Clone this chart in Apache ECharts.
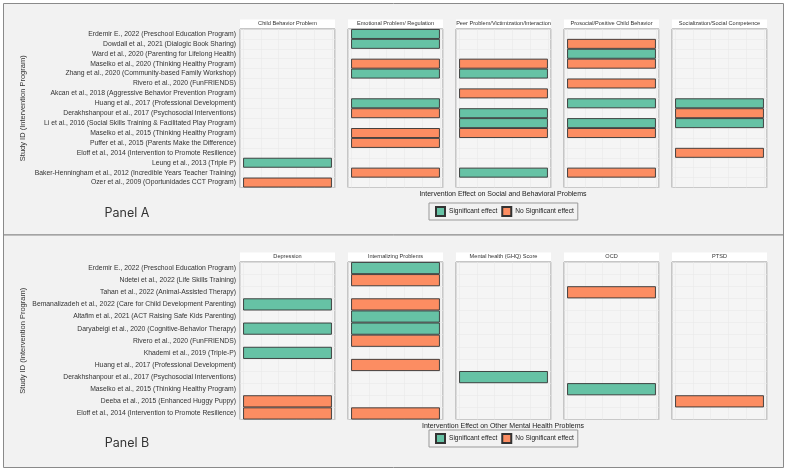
<!DOCTYPE html>
<html>
<head>
<meta charset="utf-8">
<script src="https://cdn.jsdelivr.net/npm/echarts@6/dist/echarts.min.js"></script>
<style>
html,body{margin:0;padding:0;background:#ffffff;}
#chart{width:787px;height:471px;}
</style>
</head>
<body>
<div id="chart"></div>
<script>
// ---------- DATA ----------
const studiesA = [
  'Erdemir E., 2022 (Preschool Education Program)',
  'Dowdall et al., 2021 (Dialogic Book Sharing)',
  'Ward et al., 2020 (Parenting for Lifelong Health)',
  'Maselko et al., 2020 (Thinking Healthy Program)',
  'Zhang et al., 2020 (Community-based Family Workshop)',
  'Rivero et al., 2020 (FunFRIENDS)',
  'Akcan et al., 2018 (Aggressive Behavior Prevention Program)',
  'Huang et al., 2017 (Professional Development)',
  'Derakhshanpour et al., 2017 (Psychosocial Interventions)',
  'Li et al., 2016 (Social Skills Training & Facilitated Play Program)',
  'Maselko et al., 2015 (Thinking Healthy Program)',
  'Puffer et al., 2015 (Parents Make the Difference)',
  'Eloff et al., 2014 (Intervention to Promote Resilience)',
  'Leung et al., 2013 (Triple P)',
  'Baker-Henningham et al., 2012 (Incredible Years Teacher Training)',
  'Ozer et al., 2009 (Oportunidades CCT Program)'
];
const studiesB = [
  'Erdemir E., 2022 (Preschool Education Program)',
  'Ndetei et al., 2022 (Life Skills Training)',
  'Tahan et al., 2022 (Animal-Assisted Therapy)',
  'Bemanalizadeh et al., 2022 (Care for Child Development Parenting)',
  'Altafim et al., 2021 (ACT Raising Safe Kids Parenting)',
  'Daryabeigi et al., 2020 (Cognitive-Behavior Therapy)',
  'Rivero et al., 2020 (FunFRIENDS)',
  'Khademi et al., 2019 (Triple-P)',
  'Huang et al., 2017 (Professional Development)',
  'Derakhshanpour et al., 2017 (Psychosocial Interventions)',
  'Maselko et al., 2015 (Thinking Healthy Program)',
  'Deeba et al., 2015 (Enhanced Huggy Puppy)',
  'Eloff et al., 2014 (Intervention to Promote Resilience)'
];
const facetsA = ['Child Behavior Problem','Emotional Problem/ Regulation','Peer Problem/Victimization/Interaction','Prosocial/Positive Child Behavior','Socialization/Social Competence'];
const facetsB = ['Depression','Internalizing Problems','Mental health (GHQ) Score','OCD','PTSD'];

// 'S' = Significant effect, 'N' = No Significant effect, '' = not measured
const childBehavior = ['','','','','','','','','','','','','','S','','N'];
const emotional     = ['S','S','','N','S','','','S','N','','N','N','','','N',''];
const peer          = ['','','','N','S','','N','','S','S','N','','','','S',''];
const prosocial     = ['','N','S','N','','N','','S','','S','N','','','','N',''];
const socialization = ['','','','','','','','S','N','S','','','N','','',''];

const depression    = ['','','','S','','S','','S','','','','N','N'];
const internalizing = ['S','N','','N','S','S','N','','N','','','','N'];
const ghq           = ['','','','','','','','','','S','','',''];
const ocd           = ['','','N','','','','','','','','S','',''];
const ptsd          = ['','','','','','','','','','','','N',''];

const legendNames = ['Significant effect','No Significant effect'];
const xTitles = ['Intervention Effect on Social and Behavioral Problems','Intervention Effect on Other Mental Health Problems'];
const panelLabels = ['Panel A','Panel B'];

// ---------- BUILD ----------
const GREEN = '#66c2a5', ORANGE = '#fc8d62';
const FONT = 'Liberation Sans, Arial, sans-serif';
const panels = [
  {studies: studiesA, facets: facetsA, effects: [childBehavior, emotional, peer, prosocial, socialization], top: 29, height: 158.5},
  {studies: studiesB, facets: facetsB, effects: [depression, internalizing, ghq, ocd, ptsd], top: 262, height: 157.5}
];
const LEFT0 = 240, STEP = 108, W = 95;

const grid = [], xAxis = [], yAxis = [], series = [], graphic = [];

// outer boxes
graphic.push({type:'rect', z:-100, shape:{x:3.5,y:3.5,width:780,height:231.5}, style:{fill:'#f2f2f2', stroke:'#8a8a8a', lineWidth:1}});
graphic.push({type:'rect', z:-100, shape:{x:3.5,y:235,width:780,height:232.5}, style:{fill:'#f2f2f2', stroke:'#8a8a8a', lineWidth:1}});

let gi = 0;
panels.forEach((p, pi) => {
  p.facets.forEach((fname, fi) => {
    const left = LEFT0 + STEP * fi;
    grid.push({left: left, top: p.top, width: W, height: p.height, show: true,
      backgroundColor: '#f5f5f5', borderColor: '#9a9a9a', borderWidth: 1, containLabel: false});
    xAxis.push({type:'value', gridIndex: gi, min: -0.035, max: 1.035,
      axisLabel:{show:false}, axisTick:{show:false}, axisLine:{show:false},
      splitNumber: 5,
      splitLine:{show:true, lineStyle:{color:'#e9e9e9', width:0.6}}});
    const ya = {type:'category', gridIndex: gi, data: p.studies, inverse: true,
      axisTick:{show:false}, axisLine:{show:false},
      axisLabel:{show: fi === 0, fontSize: 6.8, color:'#333', margin: 4, fontFamily: FONT, interval: 0},
      splitLine:{show:true, lineStyle:{color:'#e9e9e9', width:0.6}}};
    if (fi === 0) {
      ya.name = 'Study ID (Intervention Program)';
      ya.nameLocation = 'middle';
      ya.nameGap = 213;
      ya.nameRotate = 90;
      ya.nameTextStyle = {fontSize: 7.5, color:'#333', fontFamily: FONT};
    }
    yAxis.push(ya);
    const eff = p.effects[fi];
    series.push({type:'bar', name: legendNames[0], xAxisIndex: gi, yAxisIndex: gi, stack:'s'+gi,
      barCategoryGap:'0%', itemStyle:{color: GREEN, borderColor:'#333', borderWidth:0.9},
      data: eff.map(v => v === 'S' ? 1 : '-'), silent: true});
    series.push({type:'bar', name: legendNames[1], xAxisIndex: gi, yAxisIndex: gi, stack:'s'+gi,
      barCategoryGap:'0%', itemStyle:{color: ORANGE, borderColor:'#333', borderWidth:0.9},
      data: eff.map(v => v === 'N' ? 1 : '-'), silent: true});
    // strip
    graphic.push({type:'rect', shape:{x:left, y:p.top - 9.5, width:W, height:8.5}, style:{fill:'#ffffff'}});
    graphic.push({type:'text', x: left + W/2, y: p.top - 5.2,
      style:{text: fname, fill:'#333', font: '5.6px ' + FONT, textAlign:'center', textVerticalAlign:'middle'}});
    gi++;
  });
  // x title
  const xt = pi === 0 ? 194 : 426;
  graphic.push({type:'text', x: 503, y: xt,
    style:{text: xTitles[pi], fill:'#222', font: '7px ' + FONT, textAlign:'center', textVerticalAlign:'middle'}});
  // panel label
  graphic.push({type:'text', x: 127, y: pi === 0 ? 213 : 443,
    style:{text: panelLabels[pi], fill:'#333', font: '12.5px Inter, Roboto, sans-serif', textAlign:'center', textVerticalAlign:'middle'}});
});

const legendBase = {
  data: legendNames, left: 429, orient: 'horizontal', icon: 'rect',
  itemWidth: 9, itemHeight: 9, itemGap: 4, padding: [3, 4, 3, 6],
  borderColor: '#999', borderWidth: 1, backgroundColor: '#f2f2f2',
  textStyle: {fontSize: 6.6, color: '#222', fontFamily: FONT, padding:[0,0,0,-1]},
  selectedMode: false
};
const legend = [
  Object.assign({}, legendBase, {top: 203}),
  Object.assign({}, legendBase, {top: 430})
];

const chart = echarts.init(document.getElementById('chart'), null, {renderer:'canvas'});
chart.setOption({
  backgroundColor: '#ffffff',
  animation: false,
  grid, xAxis, yAxis, series, legend, graphic
});
</script>
</body>
</html>
